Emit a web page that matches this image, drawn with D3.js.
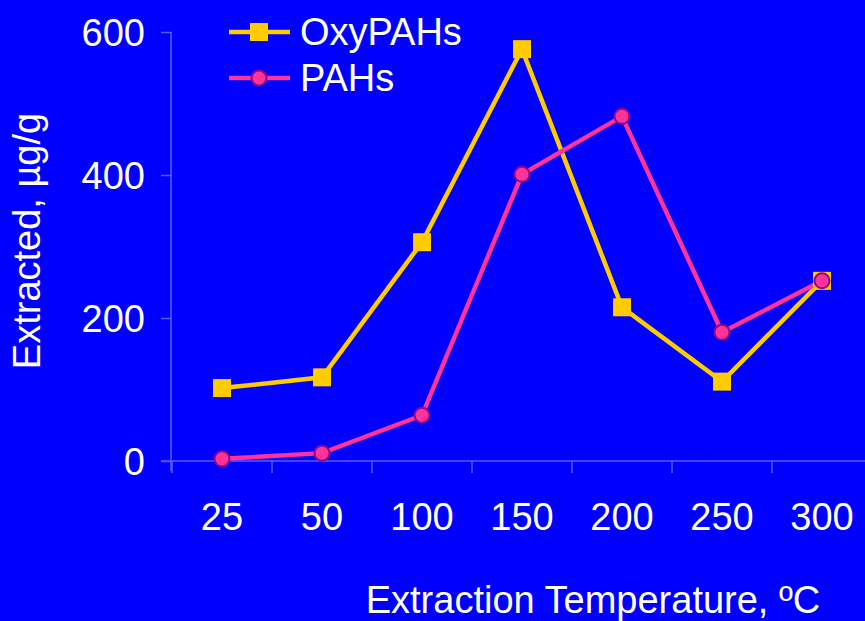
<!DOCTYPE html>
<html><head><meta charset="utf-8">
<script src="https://cdn.jsdelivr.net/npm/d3@7"></script>
<style>html,body{margin:0;padding:0;background:#0000FF;overflow:hidden}</style>
</head><body>
<svg id="c" width="865" height="621"></svg>
<script>
const categories = ["25","50","100","150","200","250","300"];
const oxyPAHs = [102, 117, 306, 576, 215, 111, 252];
const pahs = [3, 11, 64, 401, 482, 180, 252];
const yTicks = [0, 200, 400, 600];
const seriesNames = ["OxyPAHs", "PAHs"];

const svg = d3.select("#c");
const font = "'Liberation Sans', Arial, sans-serif";
const fs = "38px";
const axisColor = "#5a5aff";
svg.append("rect").attr("width",865).attr("height",621).attr("fill","#0000FF");

const x = d3.scaleBand().domain(categories).range([172, 872]);
const y = d3.scaleLinear().domain([0, 600]).range([461, 32]);

// y axis
const ya = svg.append("g").attr("transform","translate(171,0)")
  .call(d3.axisLeft(y).tickValues(yTicks).tickSize(10).tickPadding(16));
ya.select(".domain").attr("stroke",axisColor).attr("stroke-width",1.5).attr("d","M0,32V471");
ya.selectAll(".tick line").attr("stroke",axisColor).attr("stroke-width",1.5);
ya.selectAll(".tick text").attr("fill","#fff").style("font-family",font).style("font-size",fs)
  .attr("dy","0.35em");

// x axis
const xa = svg.append("g").attr("transform","translate(0,461)")
  .call(d3.axisBottom(x).tickSize(0).tickPadding(42));
xa.select(".domain").attr("stroke",axisColor).attr("stroke-width",1.5).attr("d","M161,0H865");
xa.selectAll(".tick text").attr("fill","#fff").style("font-family",font).style("font-size",fs);
// tick marks at band boundaries
const bounds = categories.map(c => x(c)).concat([x(categories[categories.length-1]) + x.bandwidth()]);
svg.append("g").selectAll("line").data(bounds).join("line")
  .attr("x1",d=>d).attr("x2",d=>d).attr("y1",461).attr("y2",473)
  .attr("stroke",axisColor).attr("stroke-width",1.5);

const cx = c => x(c) + x.bandwidth()/2;
const line = d3.line().x((d,i)=>cx(categories[i])).y(d=>y(d));

// OxyPAHs
svg.append("path").datum(oxyPAHs).attr("d",line).attr("fill","none")
  .attr("stroke","#FFCC00").attr("stroke-width",4.5);
// PAHs
svg.append("path").datum(pahs).attr("d",line).attr("fill","none")
  .attr("stroke","#FF3399").attr("stroke-width",4.5);

svg.append("g").selectAll("rect").data(oxyPAHs).join("rect")
  .attr("x",(d,i)=>cx(categories[i])-9).attr("y",d=>y(d)-9)
  .attr("width",18).attr("height",18).attr("fill","#FFCC00");
svg.append("g").selectAll("circle").data(pahs).join("circle")
  .attr("cx",(d,i)=>cx(categories[i])).attr("cy",d=>y(d)).attr("r",7.5)
  .attr("fill","#FF3399").attr("stroke","#8B0A8B").attr("stroke-width",2);

// legend
const lg = svg.append("g");
lg.append("line").attr("x1",229).attr("x2",290).attr("y1",32).attr("y2",32).attr("stroke","#FFCC00").attr("stroke-width",4.5);
lg.append("rect").attr("x",250).attr("y",23).attr("width",18).attr("height",18).attr("fill","#FFCC00");
lg.append("line").attr("x1",229).attr("x2",290).attr("y1",78).attr("y2",78).attr("stroke","#FF3399").attr("stroke-width",4.5);
lg.append("circle").attr("cx",259).attr("cy",78).attr("r",7.5).attr("fill","#FF3399").attr("stroke","#8B0A8B").attr("stroke-width",2);
lg.selectAll("text").data(seriesNames).join("text")
  .attr("x",300).attr("y",(d,i)=>32+i*46).attr("dy","0.35em")
  .attr("fill","#fff").style("font-family",font).style("font-size",fs).text(d=>d);

// axis titles
svg.append("text").attr("x",593).attr("y",613).attr("text-anchor","middle")
  .attr("fill","#fff").style("font-family",font).style("font-size",fs)
  .text("Extraction Temperature, ºC");
svg.append("text").attr("transform","translate(40,241) rotate(-90)").attr("text-anchor","middle")
  .attr("fill","#fff").style("font-family",font).style("font-size",fs)
  .text("Extracted, µg/g");
</script>
</body></html>
